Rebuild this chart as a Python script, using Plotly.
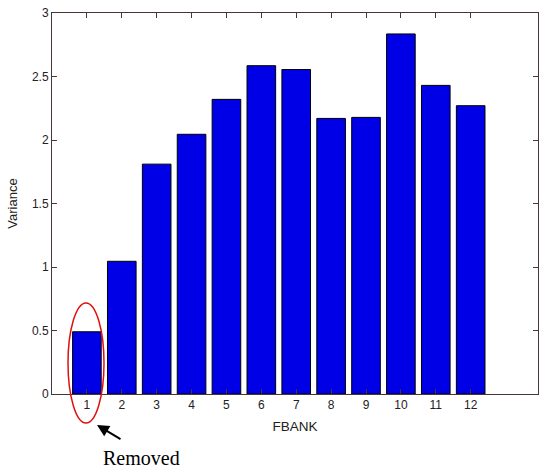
import plotly.graph_objects as go

categories = [1, 2, 3, 4, 5, 6, 7, 8, 9, 10, 11, 12]
variance = [0.49, 1.045, 1.81, 2.045, 2.32, 2.585, 2.555, 2.17, 2.178, 2.835, 2.43, 2.27]
y_ticks = [0, 0.5, 1, 1.5, 2, 2.5, 3]
y_tick_labels = ["0", "0.5", "1", "1.5", "2", "2.5", "3"]

axis_color = "#4a3434"
W, H = 541, 468
L, R, T, B = 52, 3, 13, 74
pw, ph = W - L - R, H - T - B

def px(x):
    return (x - L) / pw

def py(y):
    return (H - B - y) / ph

fig = go.Figure()
fig.add_trace(go.Bar(
    x=categories, y=variance, width=0.82,
    marker=dict(color="#0000E6", line=dict(color="black", width=1)),
))

fig.update_layout(
    width=W, height=H,
    margin=dict(l=L, r=R, t=T, b=B),
    paper_bgcolor="white", plot_bgcolor="white",
    showlegend=False,
    font=dict(family="Liberation Sans, Arial, sans-serif", size=12, color="#222"),
    xaxis=dict(
        range=[0, 13.93], tickvals=categories, ticktext=[str(c) for c in categories],
        ticks="inside", ticklen=5, tickcolor=axis_color, mirror="ticks",
        showline=True, linecolor=axis_color, linewidth=1, showgrid=False, zeroline=False,
        title=dict(text="FBANK", font=dict(size=13.5), standoff=10),
    ),
    yaxis=dict(
        range=[0, 3], tickvals=y_ticks, ticktext=y_tick_labels,
        ticks="inside", ticklen=5, tickcolor=axis_color, mirror="ticks",
        showline=True, linecolor=axis_color, linewidth=1, showgrid=False, zeroline=False,
        title=dict(text="Variance", font=dict(size=13), standoff=11),
    ),
)

# red ellipse around bar 1
fig.add_shape(type="circle", xref="paper", yref="paper",
              x0=px(68), x1=px(104), y0=py(423), y1=py(303),
              line=dict(color="#e01010", width=1.5))

# arrow
fig.add_annotation(xref="paper", yref="paper", x=px(97), y=py(425),
                   ax=25, ay=15, showarrow=True, arrowhead=2, arrowsize=1.2,
                   arrowwidth=2, arrowcolor="black", text="")

fig.add_annotation(xref="paper", yref="paper", x=px(141), y=py(458),
                   text="Removed", showarrow=False,
                   font=dict(family="Liberation Serif, Times New Roman, serif", size=20, color="black"),
                   xanchor="center", yanchor="middle")

fig.write_html("out.html", config={"displayModeBar": False},
               post_script="document.body.style.margin='0';document.body.style.overflow='hidden';")
